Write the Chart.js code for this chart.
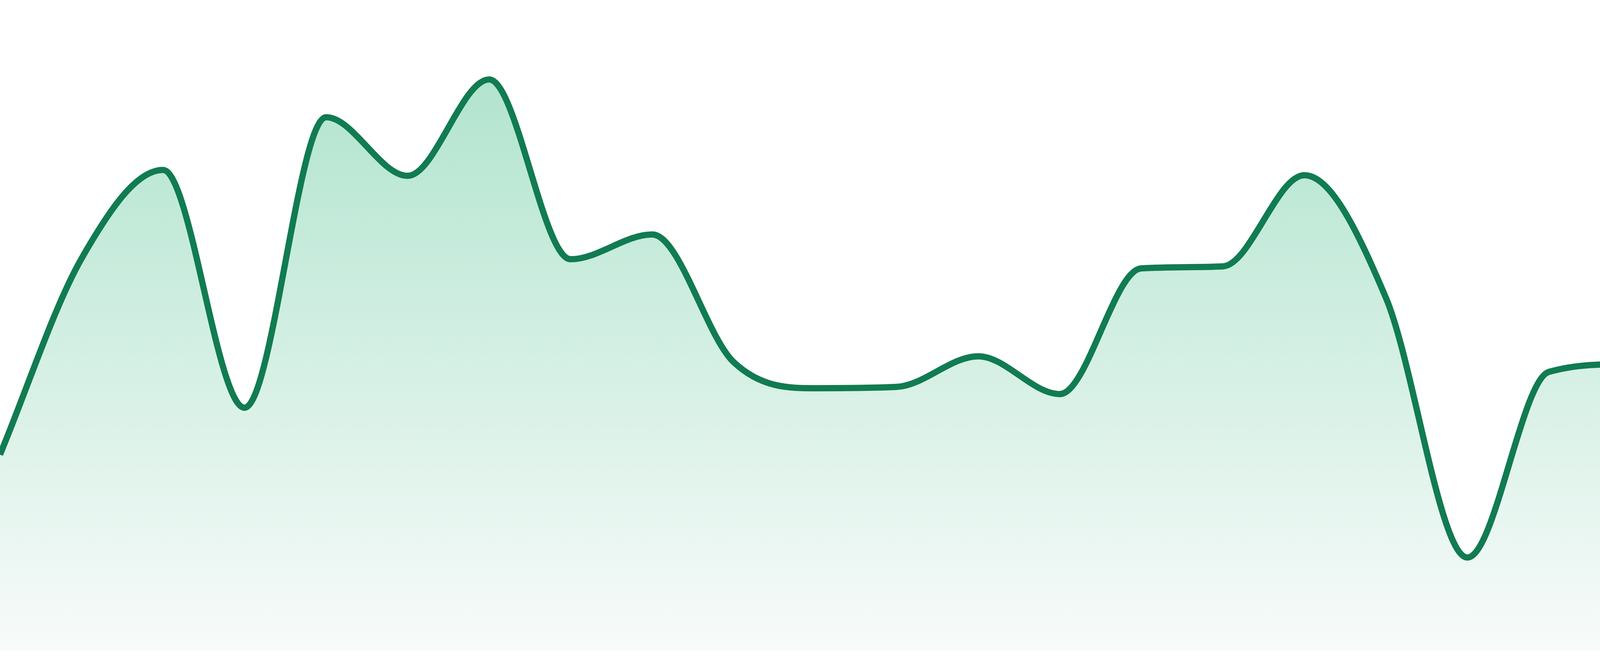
<!DOCTYPE html>
<html>
<head>
<meta charset="utf-8">
<script src="https://cdn.jsdelivr.net/npm/chart.js@4"></script>
<style>
  html, body { margin: 0; padding: 0; background: #ffffff; }
  #wrap { width: 4800px; height: 1680px; position: relative; }
</style>
</head>
<body>
<div id="wrap"><canvas id="areaChart"></canvas></div>
<script>
const labels = ["1", "2", "3", "4", "5", "6", "7", "8", "9", "10", "11", "12",
  "13", "14", "15", "16", "17", "18", "19", "20", "21", "22", "23", "24"];

const values = [30.2, 60.3, 73.9, 37.4, 82.0, 73.0, 87.8, 60.2, 64.0, 44.4, 40.4, 40.6,
  45.3, 39.5, 58.8, 59.1, 73.1, 54.3, 14.4, 42.9, 44.1, 31.4, 67.6, 70.8];

const lineColor = "#117b51";

// soft green fading to near white at the bottom of the plot
function fillGradient(context) {
  const area = context.chart.chartArea;
  if (!area) return "#d0ede2";
  const g = context.chart.ctx.createLinearGradient(0, area.top, 0, area.bottom);
  g.addColorStop(0, "#a8e1c9");
  g.addColorStop(1, "#f8fbfa");
  return g;
}

const ctx = document.getElementById("areaChart").getContext("2d");
new Chart(ctx, {
  type: "line",
  data: {
    labels: labels,
    datasets: [{
      data: values,
      borderColor: lineColor,
      borderWidth: 16,
      backgroundColor: fillGradient,
      fill: "start",
      cubicInterpolationMode: "monotone",
      pointRadius: 0
    }]
  },
  options: {
    responsive: true,
    maintainAspectRatio: false,
    animation: false,
    layout: { padding: { top: 0, right: 0, bottom: 12, left: 0 } },
    plugins: {
      legend: { display: false },
      tooltip: { enabled: false }
    },
    scales: {
      x: { display: false },
      y: { display: false, min: 0, max: 100 }
    }
  }
});
</script>
</body>
</html>
